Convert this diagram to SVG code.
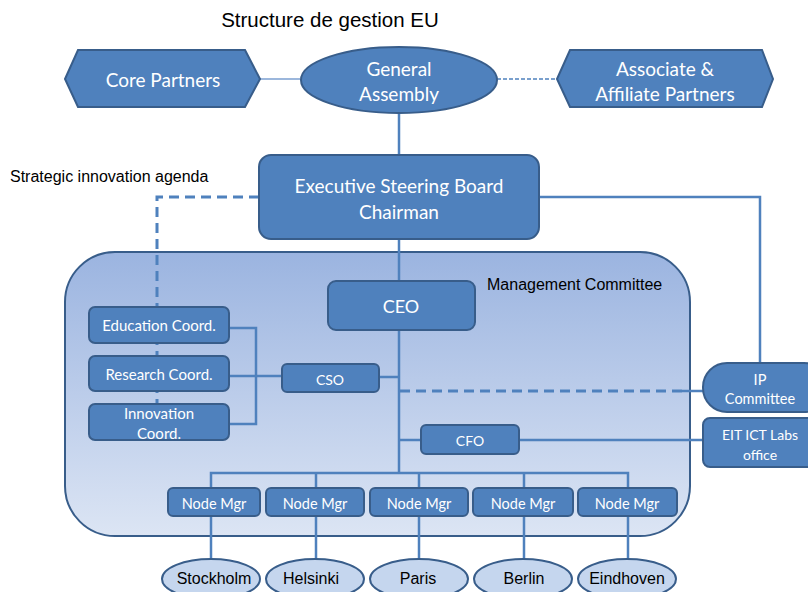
<svg xmlns="http://www.w3.org/2000/svg" width="808" height="592" viewBox="0 0 808 592">
<defs>
<linearGradient id="mc" x1="0" y1="0" x2="0" y2="1">
<stop offset="0" stop-color="#9bb4e0"/>
<stop offset="1" stop-color="#dce5f4"/>
</linearGradient>
</defs>
<style>
.box{fill:#4f81bd;stroke:#385d8a;stroke-width:2}
.city{fill:#c5d6ee;stroke:#385d8a;stroke-width:2}
.wt{fill:#fff;font-family:Lato,"Open Sans",sans-serif;text-anchor:middle;dominant-baseline:central}
.bt{fill:#000;font-family:"Liberation Sans",Arial,sans-serif}
.ln{stroke:#4f81bd;stroke-width:2.5;fill:none}
.dl{stroke:#4f81bd;stroke-width:3;fill:none;stroke-dasharray:10 6}
</style>
<rect width="808" height="592" fill="#fff"/>
<text class="bt" x="330" y="27" font-size="20.5" text-anchor="middle">Structure de gestion EU</text>
<text class="bt" x="10" y="182" font-size="16">Strategic innovation agenda</text>

<g id="management-committee">
<rect x="65" y="252" width="625" height="284" rx="50" fill="url(#mc)" stroke="#385d8a" stroke-width="2"/>
<text class="bt" x="487" y="290" font-size="16">Management Committee</text>
</g>

<g id="connectors">
<line x1="260" y1="79" x2="300" y2="79" stroke="#7b9fd1" stroke-width="1.5"/>
<line x1="497" y1="79" x2="557" y2="79" stroke="#4f81bd" stroke-width="1.5" stroke-dasharray="4 2"/>
<line class="ln" x1="399" y1="112" x2="399" y2="155"/>
<polyline class="dl" points="259,197 157,197 157,404"/>
<polyline class="ln" points="539,197 760,197 760,363"/>
<line class="ln" x1="399" y1="239" x2="399" y2="281"/>
<line class="ln" x1="399" y1="330" x2="399" y2="473"/>
<polyline class="ln" points="229,328 256,328 256,424 229,424"/>
<line class="ln" x1="229" y1="376" x2="282" y2="376"/>
<line class="ln" x1="379" y1="377" x2="399" y2="377"/>
<line class="dl" x1="400" y1="391" x2="682" y2="391"/>
<line class="ln" x1="682" y1="391" x2="703" y2="391"/>
<line class="ln" x1="399" y1="440" x2="421" y2="440"/>
<line class="ln" x1="519" y1="440" x2="703" y2="440"/>
<polyline class="ln" points="211,488 211,473 628,473 628,488"/>
<line class="ln" x1="316" y1="473" x2="316" y2="488"/>
<line class="ln" x1="419" y1="473" x2="419" y2="488"/>
<line class="ln" x1="524" y1="473" x2="524" y2="488"/>
<line class="ln" x1="211" y1="516" x2="211" y2="560"/>
<line class="ln" x1="316" y1="516" x2="316" y2="560"/>
<line class="ln" x1="419" y1="516" x2="419" y2="560"/>
<line class="ln" x1="524" y1="516" x2="524" y2="560"/>
<line class="ln" x1="628" y1="516" x2="628" y2="560"/>
</g>

<g id="core-partners">
<polygon class="box" points="65,79 78,50 245,50 260,79 245,107 78,107"/>
<text class="wt" x="163" y="79" font-size="19">Core Partners</text>
</g>
<g id="general-assembly">
<ellipse class="box" cx="399" cy="80" rx="98" ry="33"/>
<text class="wt" x="399" y="68" font-size="19">General</text>
<text class="wt" x="399" y="93" font-size="19">Assembly</text>
</g>
<g id="associate-partners">
<polygon class="box" points="557,79 570,50 762,50 773,79 762,107 570,107"/>
<text class="wt" x="665" y="68" font-size="19">Associate &amp;</text>
<text class="wt" x="665" y="93" font-size="19">Affiliate Partners</text>
</g>
<g id="executive-steering-board">
<rect class="box" x="259" y="155" width="280" height="84" rx="12"/>
<text class="wt" x="399" y="185" font-size="19">Executive Steering Board</text>
<text class="wt" x="399" y="211" font-size="19">Chairman</text>
</g>
<g id="ceo">
<rect class="box" x="328" y="281" width="147" height="49" rx="8"/>
<text class="wt" x="401" y="306" font-size="18">CEO</text>
</g>
<g id="education-coord">
<rect class="box" x="89" y="307" width="140" height="36" rx="6"/>
<text class="wt" x="159" y="325" font-size="15">Education Coord.</text>
</g>
<g id="research-coord">
<rect class="box" x="89" y="356" width="140" height="35" rx="6"/>
<text class="wt" x="159" y="374" font-size="15">Research Coord.</text>
</g>
<g id="innovation-coord">
<rect class="box" x="89" y="404" width="140" height="36" rx="6"/>
<text class="wt" x="159" y="413" font-size="15">Innovation</text>
<text class="wt" x="159" y="433" font-size="15">Coord.</text>
</g>
<g id="cso">
<rect class="box" x="282" y="364" width="97" height="28" rx="5"/>
<text class="wt" x="330" y="379" font-size="14">CSO</text>
</g>
<g id="cfo">
<rect class="box" x="421" y="425" width="98" height="29" rx="5"/>
<text class="wt" x="470" y="440" font-size="14">CFO</text>
</g>
<g id="ip-committee">
<rect class="box" x="703" y="363" width="125" height="49" rx="24"/>
<text class="wt" x="760" y="379" font-size="14.5">IP</text>
<text class="wt" x="760" y="398" font-size="14.5">Committee</text>
</g>
<g id="eit-office">
<rect class="box" x="703" y="418" width="120" height="49" rx="7"/>
<text class="wt" x="760" y="434" font-size="14">EIT ICT Labs</text>
<text class="wt" x="760" y="454" font-size="14">office</text>
</g>

<g id="node-mgr-1"><rect class="box" x="168" y="488" width="92" height="28" rx="5"/><text class="wt" x="214" y="503" font-size="14.5">Node Mgr</text></g>
<g id="node-mgr-2"><rect class="box" x="266" y="488" width="98" height="28" rx="5"/><text class="wt" x="315" y="503" font-size="14.5">Node Mgr</text></g>
<g id="node-mgr-3"><rect class="box" x="370" y="488" width="98" height="28" rx="5"/><text class="wt" x="419" y="503" font-size="14.5">Node Mgr</text></g>
<g id="node-mgr-4"><rect class="box" x="473" y="488" width="100" height="28" rx="5"/><text class="wt" x="523" y="503" font-size="14.5">Node Mgr</text></g>
<g id="node-mgr-5"><rect class="box" x="578" y="488" width="99" height="28" rx="5"/><text class="wt" x="627" y="503" font-size="14.5">Node Mgr</text></g>

<g id="stockholm"><ellipse class="city" cx="211" cy="579" rx="49" ry="20"/><text class="bt" x="214" y="584" font-size="16" text-anchor="middle">Stockholm</text></g>
<g id="helsinki"><ellipse class="city" cx="315" cy="579" rx="49" ry="20"/><text class="bt" x="311" y="584" font-size="16" text-anchor="middle">Helsinki</text></g>
<g id="paris"><ellipse class="city" cx="419" cy="579" rx="49" ry="20"/><text class="bt" x="418" y="584" font-size="16" text-anchor="middle">Paris</text></g>
<g id="berlin"><ellipse class="city" cx="523" cy="579" rx="49" ry="20"/><text class="bt" x="524" y="584" font-size="16" text-anchor="middle">Berlin</text></g>
<g id="eindhoven"><ellipse class="city" cx="627" cy="579" rx="49" ry="20"/><text class="bt" x="627" y="584" font-size="16" text-anchor="middle">Eindhoven</text></g>
</svg>
